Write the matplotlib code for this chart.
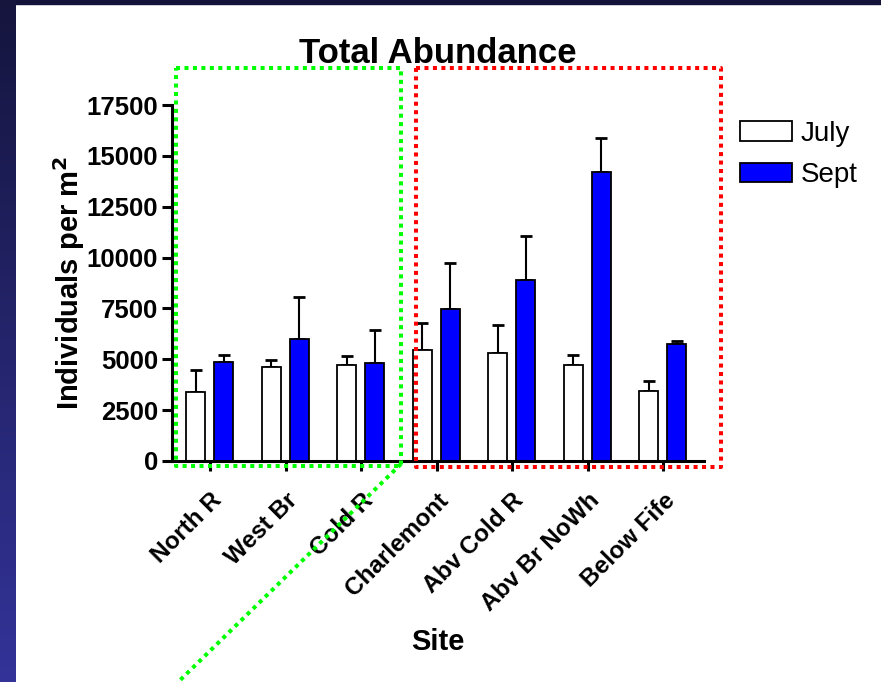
"""
Total abundance per site, July vs Sept, with the slide's dotted highlight boxes.
"""
import matplotlib.pyplot as plt
import numpy as np
from matplotlib.lines import Line2D
from matplotlib.patches import Rectangle

sites = ["North R", "West Br", "Cold R", "Charlemont", "Abv Cold R", "Abv Br NoWh", "Below Fife"]
july = [3400, 4600, 4720, 5440, 5320, 4730, 3420]
july_err = [1090, 380, 420, 1360, 1370, 490, 520]
sept = [4870, 6010, 4800, 7490, 8920, 14190, 5730]
sept_err = [350, 2070, 1660, 2220, 2120, 1680, 170]
yticks = [0, 2500, 5000, 7500, 10000, 12500, 15000, 17500]

W, H = 881, 682


def px(x, y):
    # figure pixel (from top-left) -> figure fraction
    return x / W, 1 - y / H


def dotted(fig, pts, color):
    xs, ys = zip(*[px(x, y) for x, y in pts])
    fig.add_artist(Line2D(xs, ys, transform=fig.transFigure, color=color,
                          linewidth=2.9, linestyle=(0, (1, 1.1)), zorder=5))


def main():
    plt.rcParams.update({
        "font.family": ["Liberation Sans", "DejaVu Sans"],
        "axes.linewidth": 2.2,
    })
    fig = plt.figure(figsize=(W / 100, H / 100), dpi=100, facecolor="white")

    # slide background: dark top band and blue gradient strip on the left
    fig.add_artist(Rectangle(px(0, 4), 1, 4 / H, transform=fig.transFigure,
                             color="#13133a", zorder=-10))
    strip = fig.add_axes([0, 0, 16 / W, 1], zorder=-10)
    grad = np.linspace(0, 1, 256)[:, None]
    c_top = np.array([0x15, 0x15, 0x3e]) / 255
    c_bot = np.array([0x33, 0x33, 0x99]) / 255
    img = c_top[None, None, :] * (1 - grad[..., None]) + c_bot[None, None, :] * grad[..., None]
    strip.imshow(img, aspect="auto", extent=(0, 1, 0, 1), origin="upper")
    strip.axis("off")

    ax = fig.add_axes([172 / W, (H - 461) / H, 532 / W, 356 / H])
    x = np.arange(len(sites))
    w = 0.25
    ax.bar(x - 0.19, july, w, color="white", edgecolor="black", linewidth=1.3,
           label="July", zorder=2)
    ax.bar(x + 0.18, sept, w, color="#0000ff", edgecolor="black", linewidth=1.3,
           label="Sept", zorder=2)
    ax.errorbar(x - 0.19, july, yerr=[np.zeros(len(july)), july_err], fmt="none",
                ecolor="black", elinewidth=1.5, capsize=4.5, capthick=2, zorder=1)
    ax.errorbar(x + 0.18, sept, yerr=[np.zeros(len(sept)), sept_err], fmt="none",
                ecolor="black", elinewidth=1.5, capsize=4.5, capthick=2, zorder=1)

    ax.set_xlim(-0.503, 6.54)
    ax.set_ylim(0, 17500)
    ax.set_yticks(yticks)
    ax.set_yticklabels([str(v) for v in yticks], fontsize=18.5, fontweight="bold")
    ax.set_xticks(x)
    ax.set_xticklabels(sites, fontsize=17.5, fontweight="bold", rotation=45,
                       ha="right", rotation_mode="anchor")
    ax.tick_params(axis="both", length=7, width=2.2, direction="out", pad=3)
    ax.tick_params(axis="x", pad=13)
    ax.spines["top"].set_visible(False)
    ax.spines["right"].set_visible(False)

    ax.set_ylabel("Individuals per m$^\\mathbf{2}$", fontsize=21, fontweight="bold")
    ax.yaxis.set_label_coords(-0.16, 0.5)
    ax.set_xlabel("Site", fontsize=21, fontweight="bold")
    ax.xaxis.set_label_coords(0.5, -0.47)
    ax.set_title("Total Abundance", fontsize=25, fontweight="bold", y=1.118, pad=0)

    ax.legend(loc="upper left", bbox_to_anchor=px(740, 121), bbox_transform=fig.transFigure,
              frameon=False, fontsize=20, handlelength=1.87, handleheight=0.72,
              handletextpad=0.3, labelspacing=0.55, borderpad=0, borderaxespad=0)

    # dotted highlight boxes from the slide
    dotted(fig, [(176, 68), (401, 68), (401, 466), (176, 466), (176, 68)], "#00ff00")
    dotted(fig, [(401, 464), (170, 690)], "#00ff00")
    dotted(fig, [(416, 68), (721, 68), (721, 467), (416, 467), (416, 68)], "#ff0000")

    fig.savefig("out.png", dpi=100, facecolor="white")
    plt.close(fig)


if __name__ == "__main__":
    main()
